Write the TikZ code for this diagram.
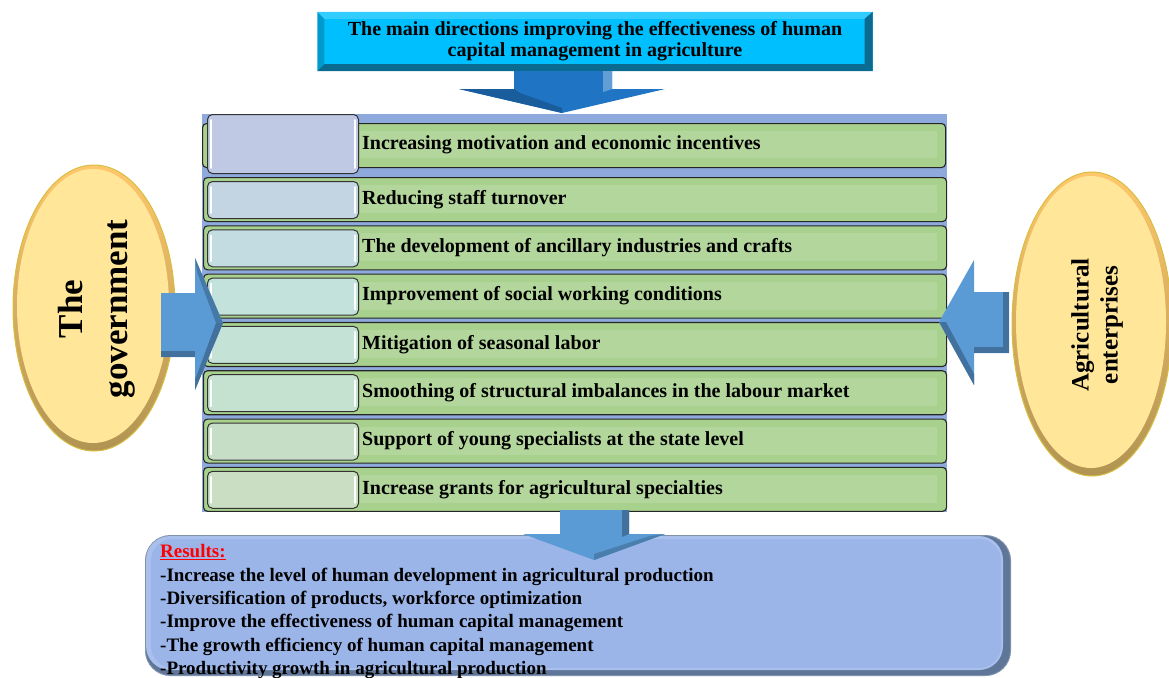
\documentclass[tikz,border=0pt]{standalone}
\usepackage{fontspec}
\setmainfont{Liberation Serif}
\usetikzlibrary{calc}

\definecolor{titlecyan}{HTML}{00BFFF}
\definecolor{titleside}{HTML}{0B6A8F}
\definecolor{titlelight}{HTML}{0099CC}
\definecolor{panelblue}{HTML}{8EA9DB}
\definecolor{rowgreen}{HTML}{A9D18E}
\definecolor{rowgreenlt}{HTML}{B3D69C}
\definecolor{arrowblue}{HTML}{5B9BD5}
\definecolor{arrowdark}{HTML}{41719C}
\definecolor{arrowdeep}{HTML}{1F74C4}
\definecolor{ovalfill}{HTML}{FFE699}
\definecolor{ovalrim}{HTML}{C4A45C}
\definecolor{resfill}{HTML}{9BB5E9}
\definecolor{resdark}{HTML}{5F7699}

\tikzset{
  rowbox/.style={draw=black!85, line width=1.1pt, fill=rowgreen, rounded corners=4pt,
    minimum width=743pt, minimum height=44pt, anchor=north west, inner sep=0pt},
  tabbox/.style={draw=black!80, line width=1pt, rounded corners=5pt,
    minimum width=151pt, anchor=north west, inner sep=0pt},
  rowtext/.style={anchor=west, inner sep=0pt, font=\fontsize{20}{22}\selectfont\bfseries},
  ovaltext/.style={rotate=90, align=center, inner sep=0pt},
}

\begin{document}
\begin{tikzpicture}[x=1pt,y=-1pt]
\useasboundingbox (0,0) rectangle (1169,677);

% ---------- title box with bevel ----------
\node[fill=titlecyan, minimum width=555pt, minimum height=59pt, inner sep=0pt] (titlebox) at (595,41.5) {};
\fill[titlelight] (titlebox.south west) -- (titlebox.north west) -- ++(7,7) -- ($(titlebox.south west)+(7,-7)$) -- cycle;
\fill[titlecyan!80!white] (titlebox.north west) -- (titlebox.north east) -- ++(-8,7) -- ($(titlebox.north west)+(7,7)$) -- cycle;
\fill[titleside] (titlebox.north east) -- (titlebox.south east) -- ++(-8,-7) -- ($(titlebox.north east)+(-8,7)$) -- cycle;
\fill[titleside] (titlebox.south west) -- (titlebox.south east) -- ++(-8,-7) -- ($(titlebox.south west)+(7,-7)$) -- cycle;
\node[align=center, font=\fontsize{20}{21}\selectfont\bfseries] (title) at (595,41.5) {The main directions improving the effectiveness of human\\capital management in agriculture};

% ---------- panel behind the list ----------
\node[fill=panelblue, minimum width=745pt, minimum height=398pt, anchor=north west, inner sep=0pt] (panel) at (202,114) {};

% ---------- arrow from title to list ----------
\fill[arrowdeep] (514,71) -- (612,71) -- (612,89) -- (665,89) -- (562,113) -- (459,89) -- (514,89) -- cycle;
\fill[arrowdeep!70!white] (603,71) -- (612,71) -- (612,89) -- (603,92) -- cycle;
\fill[arrowdeep!80!black] (459,89) -- (514,89) -- (520,93) -- (562,108) -- (562,113) -- cycle;

% ---------- list rows ----------
% row 1 (taller tab)
\node[rowbox] (r1) at (202,123) {};
\fill[rowgreenlt] (360,131) rectangle (937,158);
\node[tabbox, fill={rgb,255:red,192;green,201;blue,228}, minimum height=59pt] (b1) at (207,114) {};
\node[rowtext] (t1) at (362,145) {Increasing motivation and economic incentives};

\foreach \k/\txt/\rr/\gg/\bb in {
  2/{Reducing staff turnover}/195/212/227,
  3/{The development of ancillary industries and crafts}/195/220/226,
  4/{Improvement of social working conditions}/195/226/220,
  5/{Mitigation of seasonal labor}/196/226/214,
  6/{Smoothing of structural imbalances in the labour market}/197/225/207,
  7/{Support of young specialists at the state level}/198/222/198,
  8/{Increase grants for agricultural specialties}/201/222/194}
{
  \pgfmathsetmacro\yt{177+48.3*(\k-2)}
  \node[rowbox] (r\k) at (203,\yt) {};
  \fill[rowgreenlt] (360,\yt+8) rectangle (937,\yt+36);
  \node[tabbox, fill={rgb,255:red,\rr;green,\gg;blue,\bb}, minimum height=37pt] (b\k) at (207,\yt+4) {};
  \node[rowtext] (t\k) at (362,\yt+22.5) {\txt};
}
% glossy edges of the tabs
\foreach \k in {1,...,8}{
  \draw[white, line width=1.6pt, line cap=round] ($(b\k.north west)+(4,6)$) -- ($(b\k.south west)+(4,-6)$);
  \draw[white, line width=1.6pt, line cap=round] ($(b\k.north east)+(-4,6)$) -- ($(b\k.south east)+(-4,-6)$);
}

% ---------- the government ----------
\shade[top color=ovalfill!70!orange, bottom color=ovalrim!90!black, draw=ovalrim!70!yellow, line width=1pt]
  (94,308) ellipse [x radius=81, y radius=143];
\fill[ovalfill] (93,306) ellipse [x radius=76, y radius=137];
\node (gov) at (94,308) {};
\node[ovaltext, font=\fontsize{35}{45}\selectfont\bfseries] (govtext) at (97,309) {The\\government};

% arrow from the government to the list
\fill[arrowblue] (161,293) -- (195,293) -- (195,258) -- (223,323) -- (195,390) -- (195,357) -- (161,357) -- cycle;
\fill[arrowdark] (161,351) -- (195,351) -- (195,357) -- (161,357) -- cycle;
\fill[arrowdark] (223,323) -- (195,390) -- (195,380) -- (216,323) -- cycle;
\fill[arrowdark!80!arrowblue] (195,258) -- (223,323) -- (216,323) -- (197,272) -- cycle;

% ---------- agricultural enterprises ----------
\shade[top color=ovalfill!70!orange, bottom color=ovalrim!90!black, draw=ovalrim!70!yellow, line width=1pt]
  (1092,324) ellipse [x radius=80, y radius=152];
\fill[ovalfill] (1091,322) ellipse [x radius=75, y radius=146];
\node (agr) at (1092,324) {};
\node[ovaltext, font=\fontsize{25}{29}\selectfont\bfseries] (agrtext) at (1097,325) {Agricultural\\enterprises};

% arrow from the enterprises to the list
\fill[arrowblue] (1009,292) -- (974,292) -- (974,260) -- (939,322) -- (974,385) -- (974,353) -- (1009,353) -- cycle;
\fill[arrowdark] (1003,292) -- (1009,292) -- (1009,353) -- (1003,353) -- cycle;
\fill[arrowdark] (974,347) -- (1009,347) -- (1009,353) -- (974,353) -- cycle;
\fill[arrowdark] (939,322) -- (974,385) -- (974,374) -- (946,322) -- cycle;

% ---------- results ----------
\node[fill=resdark, draw=resdark!80!white, line width=1pt, rounded corners=25pt,
  minimum width=865pt, minimum height=140pt, anchor=north west, inner sep=0pt] (res) at (145,535) {};
\fill[resfill!85!white, rounded corners=24pt] (146,536) rectangle (1003,670);
\fill[resfill, rounded corners=22pt] (151,539) rectangle (1001,668);
\node[anchor=north west, align=left, inner sep=0pt,
  font=\fontsize{19}{23.3}\selectfont\bfseries] (restext) at (160,544.5)
  {\textcolor{red}{\underline{Results:}}\\
   -Increase the level of human development in agricultural production\\
   -Diversification of products, workforce optimization\\
   -Improve the effectiveness of human capital management\\
   -The growth efficiency of human capital management\\
   -Productivity growth in agricultural production};

% arrow from the list to the results
\fill[arrowblue] (560,510) -- (629,510) -- (629,534) -- (665,534) -- (594,560) -- (523,534) -- (560,534) -- cycle;
\fill[arrowdark] (622,510) -- (629,510) -- (629,534) -- (622,537) -- cycle;
\fill[arrowdark!70!arrowblue] (665,534) -- (594,560) -- (594,554) -- (650,536) -- cycle;
\end{tikzpicture}
\end{document}
